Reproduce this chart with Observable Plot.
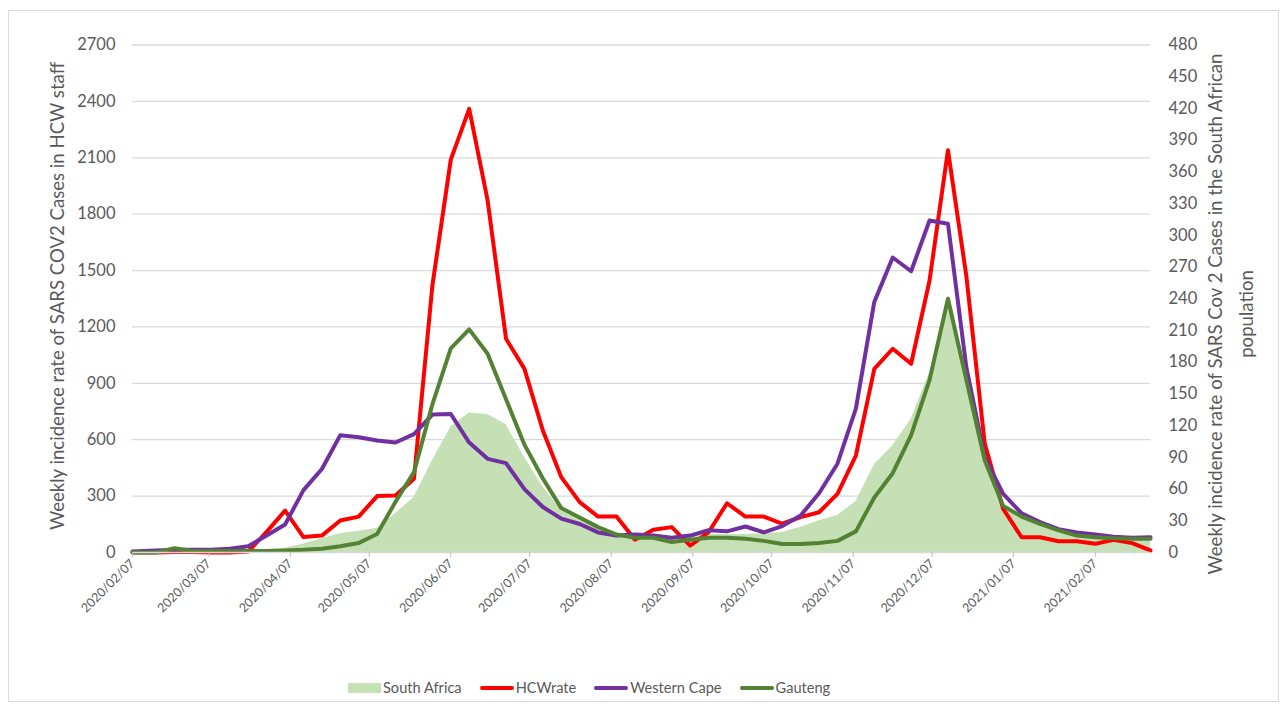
<!DOCTYPE html>
<html><head><meta charset="utf-8">
<script src="https://cdn.jsdelivr.net/npm/d3@7"></script>
<script src="https://cdn.jsdelivr.net/npm/@observablehq/plot@0.6"></script>
<style>
body{margin:0;background:#fff;font-family:Lato, "Open Sans", sans-serif;}
#frame{position:absolute;left:8px;top:10px;width:1271px;height:692px;border:1px solid #d9d9d9;box-sizing:border-box;}
#chart{position:absolute;left:0;top:0;}
.ytitle{position:absolute;transform:translate(-50%,-50%) rotate(-90deg);white-space:nowrap;text-align:center;color:#595959;font-size:18.6px;}
#legend{position:absolute;top:679px;left:348px;display:flex;align-items:center;font-size:14.6px;color:#595959;white-space:nowrap;}
#legend .item{display:flex;align-items:center;margin-right:18px;}
#legend .sw{display:inline-block;margin-right:2px;}
</style></head>
<body>
<div id="frame"></div>
<div id="chart"></div>
<div class="ytitle" style="left:57px;top:296px;">Weekly incidence rate of SARS COV2 Cases in HCW staff</div>
<div class="ytitle" style="left:1231px;top:314px;line-height:31px;">Weekly incidence rate of SARS Cov 2 Cases in the South African<br>population</div>
<div id="legend"></div>
<script>
const dates = ["2020-02-07","2020-02-16","2020-02-23","2020-03-01","2020-03-08","2020-03-15","2020-03-22","2020-03-29",
"2020-04-05","2020-04-12","2020-04-19","2020-04-26","2020-05-03","2020-05-10","2020-05-17","2020-05-24","2020-05-31",
"2020-06-07","2020-06-14","2020-06-21","2020-06-28","2020-07-05","2020-07-12","2020-07-19","2020-07-26","2020-08-02",
"2020-08-09","2020-08-16","2020-08-23","2020-08-30","2020-09-06","2020-09-13","2020-09-20","2020-09-27","2020-10-04",
"2020-10-11","2020-10-18","2020-10-25","2020-11-01","2020-11-08","2020-11-15","2020-11-22","2020-11-29","2020-12-06",
"2020-12-13","2020-12-20","2020-12-27","2021-01-03","2021-01-10","2021-01-17","2021-01-24","2021-01-31","2021-02-07",
"2021-02-14","2021-02-21","2021-02-28"];

// Left axis (HCW staff)
const hcwRate = [0,0,3,3,0,0,5,110,223,82,90,170,191,300,303,392,1420,2090,2360,1873,1137,977,649,401,268,191,
191,68,121,135,37,108,262,191,191,153,188,214,312,516,977,1084,1004,1447,2140,1470,578,232,81,81,60,60,46,68,50,11];

// Right axis (population)
const southAfrica = [0.3,0.4,0.5,0.6,0.8,1,1.5,2.5,4,8,13,17.7,20,23,37,52,87,118.5,132,130.5,121,90,62,40,30,22,
17,16,15,15,15,17,17,17,18,19,24,30,35,48,83,101,126,170,236,160,88,45,32,25.5,19,16,14,13,12,12];
const westernCape = [1,2,2.5,2.5,2.5,3.5,6,16,26.5,59,79,111,109,106,104,112,130.5,131,104,88.6,84.5,60,43,32,27,19,
16,17,16,14,16,21,20,24.6,19,25,35,56,84,136,237,279,266,314,311,175,90,55.5,37,28.7,22,19,17,15,14,14.5];
const gauteng = [0,0,4,1.5,1.5,1.5,1.5,1.5,2,2.5,3.5,6,9,17.5,48,76,140,193,211,188,145,102,70,42,33,24,
17,14,14,10,12,14,14,13,11,8,8,9,11,20,52,75,111,163,240,163,87,44,34,27,21,16,14.5,13.5,13,13];

const leftTicks = [0,300,600,900,1200,1500,1800,2100,2400,2700];
const rightTicks = [0,30,60,90,120,150,180,210,240,270,300,330,360,390,420,450,480];
const xTicks = ["2020-02-07","2020-03-07","2020-04-07","2020-05-07","2020-06-07","2020-07-07","2020-08-07",
"2020-09-07","2020-10-07","2020-11-07","2020-12-07","2021-01-07","2021-02-07"];

const series = [
  {name:"South Africa", color:"#c5e0b4", kind:"area"},
  {name:"HCWrate", color:"#ff0000", kind:"line"},
  {name:"Western Cape", color:"#7030a0", kind:"line"},
  {name:"Gauteng", color:"#548235", kind:"line"}
];

const K = leftTicks[leftTicks.length-1] / rightTicks[rightTicks.length-1];
const rows = dates.map((d,i)=>({
  date:new Date(d), hcw:hcwRate[i], sa:southAfrica[i]*K, wc:westernCape[i]*K, gt:gauteng[i]*K
}));

const chart = Plot.plot({
  width:1285, height:640,
  marginLeft:132, marginRight:135, marginTop:44.5, marginBottom:88,
  x:{type:"utc", domain:[new Date("2020-02-07"), new Date("2021-02-28")]},
  y:{domain:[0,2700]},
  style:{fontFamily:"Lato, 'Open Sans', sans-serif", color:"#595959", background:"transparent", overflow:"visible"},
  marks:[
    Plot.gridY(leftTicks.slice(1), {stroke:"#d9d9d9", strokeOpacity:1, strokeWidth:1.3}),
    Plot.areaY(rows,{x:"date", y:"sa", fill:series[0].color}),
    Plot.lineY(rows,{x:"date", y:"hcw", stroke:series[1].color, strokeWidth:4}),
    Plot.lineY(rows,{x:"date", y:"wc", stroke:series[2].color, strokeWidth:4}),
    Plot.lineY(rows,{x:"date", y:"gt", stroke:series[3].color, strokeWidth:4}),
    Plot.ruleY([0],{stroke:"#d9d9d9", strokeWidth:1.3}),
    Plot.axisX({ticks:xTicks.map(d=>new Date(d)), tickFormat:d3.utcFormat("%Y/%m/%d"), tickRotate:-45,
      tickSize:5, tickPadding:4, stroke:"#bfbfbf", fill:"#595959", fontSize:12.5, label:null}),
    Plot.axisY({anchor:"left", ticks:leftTicks, tickFormat:d=>String(d), tickSize:0, tickPadding:17, fontSize:16.5, fill:"#595959", label:null}),
    Plot.axisY({anchor:"right", ticks:rightTicks.map(v=>v*K), tickFormat:d=>String(Math.round(d/K)),
      tickSize:0, tickPadding:18, fontSize:16.5, fill:"#595959", label:null})
  ]
});
document.getElementById("chart").appendChild(chart);

const legend = document.getElementById("legend");
series.forEach(s=>{
  const it = document.createElement("div"); it.className="item";
  const sw = document.createElement("span"); sw.className="sw";
  if (s.kind==="area") { sw.style.width="33px"; sw.style.height="10px"; sw.style.background=s.color; }
  else { sw.style.width="34px"; sw.style.height="4px"; sw.style.background=s.color; sw.style.borderRadius="2px"; }
  const tx = document.createElement("span"); tx.textContent = s.name;
  it.appendChild(sw); it.appendChild(tx); legend.appendChild(it);
});
</script>
</body></html>
